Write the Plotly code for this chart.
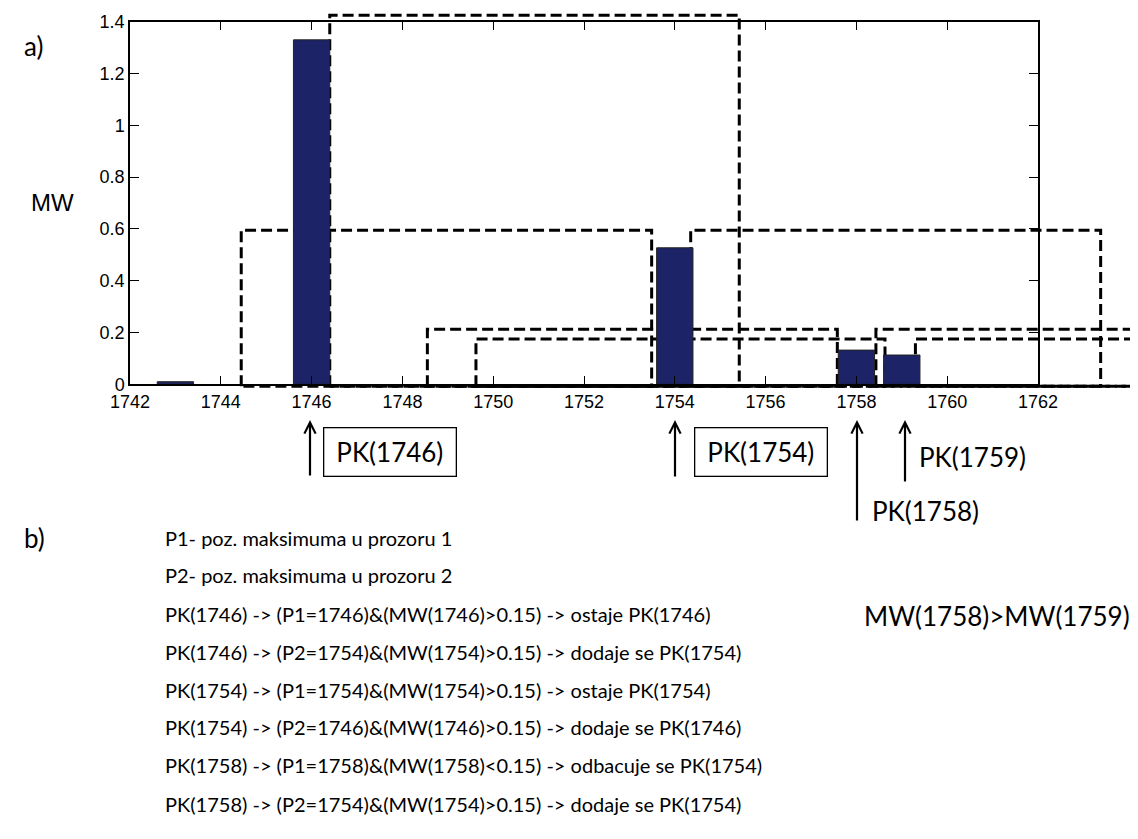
import plotly.graph_objects as go

# ---------------- data ----------------
years = [1743, 1746, 1754, 1758, 1759]
mw_values = [0.01, 1.33, 0.527, 0.132, 0.113]

# search windows (dashed rectangles)
win_start = [1746.4, 1744.45, 1754.35, 1748.55, 1749.62, 1758.43, 1759.3]
win_end = [1755.42, 1753.49, 1763.38, 1757.58, 1758.63, 1767.5, 1768.4]
win_height = [1.425, 0.595, 0.595, 0.213, 0.175, 0.213, 0.175]
win_bottom = -0.008

x_tick_vals = list(range(1742, 1763, 2))
y_tick_vals = [0, 0.2, 0.4, 0.6, 0.8, 1.0, 1.2, 1.4]
y_tick_text = ["0", "0.2", "0.4", "0.6", "0.8", "1", "1.2", "1.4"]

peak_labels = ["PK(1746)", "PK(1754)", "PK(1758)", "PK(1759)"]
legend_lines = [
    "P1- poz. maksimuma u prozoru 1",
    "P2- poz. maksimuma u prozoru 2",
    "PK(1746) -> (P1=1746)&(MW(1746)>0.15) -> ostaje PK(1746)",
    "PK(1746) -> (P2=1754)&(MW(1754)>0.15) -> dodaje se PK(1754)",
    "PK(1754) -> (P1=1754)&(MW(1754)>0.15) -> ostaje PK(1754)",
    "PK(1754) -> (P2=1746)&(MW(1746)>0.15) -> dodaje se PK(1746)",
    "PK(1758) -> (P1=1758)&(MW(1758)<0.15) -> odbacuje se PK(1754)",
    "PK(1758) -> (P2=1754)&(MW(1754)>0.15) -> dodaje se PK(1754)",
]
side_note = "MW(1758)>MW(1759)"

# ---------------- layout geometry (page pixels) ----------------
PAGE_W, PAGE_H = 1138, 839
OFF = 8                      # default body margin of the html page
W, H = PAGE_W - OFF, PAGE_H - OFF
AX_L, AX_R, AX_T, AX_B = 130, 1038, 21.7, 384.3
X0, X1 = 1742, 1762
Y0, Y1 = 0.0, 1.4
ppx = (AX_R - AX_L) / (X1 - X0)
ppy = (AX_B - AX_T) / (Y1 - Y0)

def px(x):
    return (x - OFF) / W

def py(y):
    return 1 - (y - OFF) / H

# large invisible axes for the dashed windows (extends outside the frame)
BIG_T, BIG_B = 10, 402
big_xrange = [X0, X0 + (PAGE_W - AX_L) / ppx]
big_yrange = [Y0 - (BIG_B - AX_B) / ppy, Y0 + (AX_B - BIG_T) / ppy]

TEXT_FONT = "Lato, 'Open Sans', sans-serif"
AX_FONT = "'Liberation Sans', Arial, sans-serif"

fig = go.Figure()

# dashed windows
wx, wy = [], []
for s, e, h in zip(win_start, win_end, win_height):
    wx += [s, s, e, e, s, None]
    wy += [win_bottom, h, h, win_bottom, win_bottom, None]
fig.add_trace(go.Scatter(
    x=wx, y=wy, mode="lines", xaxis="x", yaxis="y",
    line=dict(color="black", width=3, dash="11px,5px"),
    hoverinfo="skip", showlegend=False,
))

# bars
fig.add_trace(go.Bar(
    x=years, y=mw_values, width=0.8, xaxis="x2", yaxis="y2",
    marker=dict(color="#1c2366", line=dict(color="#222222", width=1)),
    showlegend=False,
))

fig.update_layout(
    width=W, height=H,
    margin=dict(l=0, r=0, t=0, b=0, pad=0, autoexpand=False),
    paper_bgcolor="white",
    plot_bgcolor="rgba(0,0,0,0)",
    showlegend=False,
    xaxis=dict(domain=[px(AX_L), 1.0], range=big_xrange, visible=False,
               anchor="y", fixedrange=True, automargin=False),
    yaxis=dict(domain=[py(BIG_B), py(BIG_T)], range=big_yrange, visible=False,
               anchor="x", fixedrange=True, automargin=False),
    xaxis2=dict(domain=[px(AX_L), px(AX_R)], range=[X0, X1], anchor="y2",
                showline=True, linecolor="black", linewidth=1.5, mirror="ticks",
                ticks="inside", ticklen=9, tickcolor="black", tickwidth=1,
                tickvals=x_tick_vals, showgrid=False, zeroline=False,
                automargin=False,
                tickfont=dict(family=AX_FONT, size=18, color="black")),
    yaxis2=dict(domain=[py(AX_B), py(AX_T)], range=[Y0, Y1], anchor="x2",
                showline=True, linecolor="black", linewidth=1.5, mirror="ticks",
                ticks="inside", ticklen=9, tickcolor="black", tickwidth=1,
                tickvals=y_tick_vals, ticktext=y_tick_text,
                showgrid=False, zeroline=False, automargin=False,
                tickfont=dict(family=AX_FONT, size=18, color="black")),
)

ann = []

def text(t, x, y, size, xanchor="left", family=TEXT_FONT):
    ann.append(dict(text=t, x=px(x), y=py(y), xref="paper", yref="paper",
                    xanchor=xanchor, yanchor="middle", showarrow=False,
                    font=dict(family=family, size=size, color="black")))

text("a)", 22, 46, 26)
text("b)", 22, 538, 26)
text("MW", 52, 202, 24, xanchor="center", family=AX_FONT)

line_y = [538, 575, 614, 652, 690, 727, 765, 804]
for t, y in zip(legend_lines, line_y):
    text(t, 163, y, 20)
text(side_note, 862, 616, 26)

# arrows
arrow_x = [310, 675, 857, 905]
arrow_tail = [477, 478, 522, 483]
for x, tail in zip(arrow_x, arrow_tail):
    ann.append(dict(text="", x=px(x), y=py(420), xref="paper", yref="paper",
                    ax=0, ay=tail - 420, axref="pixel", ayref="pixel",
                    showarrow=True, arrowhead=5, arrowsize=1.0, arrowwidth=2.2,
                    arrowcolor="black", standoff=0, startstandoff=0))

# boxed labels
for t, cx in zip(peak_labels[:2], [389.5, 760.5]):
    ann.append(dict(text=t, x=px(cx), y=py(452), xref="paper", yref="paper",
                    xanchor="center", yanchor="middle", showarrow=False,
                    width=129, height=45, borderpad=1, bordercolor="black",
                    borderwidth=1.3, bgcolor="white",
                    font=dict(family=TEXT_FONT, size=26, color="black")))
text(peak_labels[2], 870, 511, 26)
text(peak_labels[3], 917, 457, 26)

fig.update_layout(annotations=ann)

fig.write_html("out.html")
